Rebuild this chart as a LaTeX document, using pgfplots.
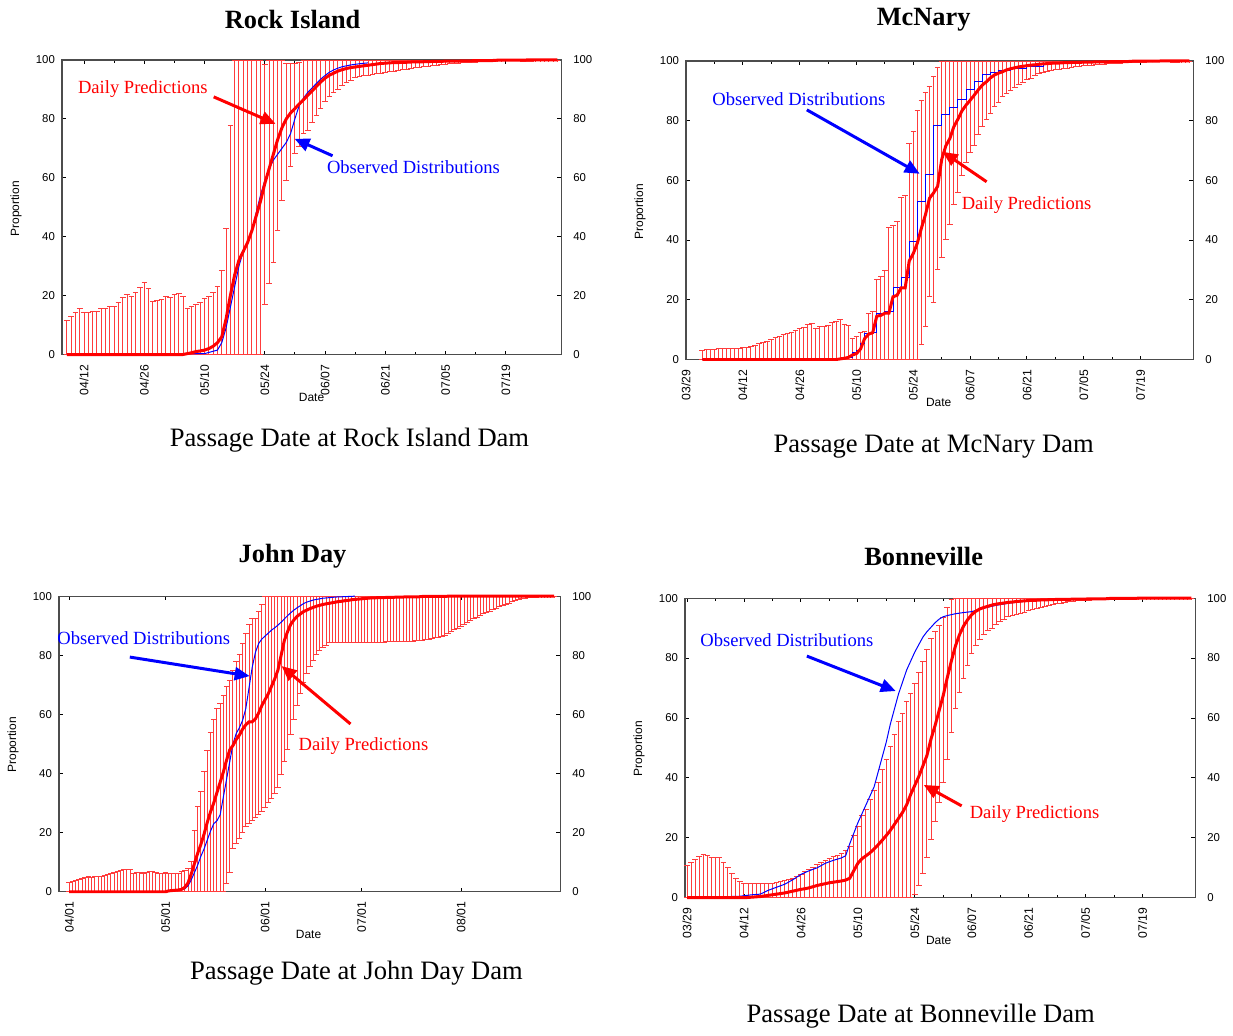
\documentclass[border=0pt]{standalone}
\usepackage{fontspec}
\setmainfont{Liberation Serif}
\setsansfont{Liberation Sans}
\usepackage{pgfplots}
\pgfplotsset{compat=1.18}
\usepackage{pgfplotstable}
\usetikzlibrary{arrows.meta}
\definecolor{barred}{RGB}{255,60,60}

% Rock Island: day (04/01 = 1), lower, upper, prediction
\pgfplotstableread[row sep=\\]{d lo hi p\\
8 0 11.6 0\\ 9 0 13.0 0\\ 10 0 14.3 0\\ 11 0 15.7 0\\ 12 0 14.5 0\\ 13 0 14.5 0\\ 14 0 14.9 0\\ 15 0 14.9 0\\
16 0 15.7 0\\ 17 0 15.7 0\\ 18 0 16.3 0\\ 19 0 16.6 0\\ 20 0 17.9 0\\ 21 0 19.4 0\\ 22 0 20.6 0\\ 23 0 19.7 0\\
24 0 21.2 0\\ 25 0 22.8 0\\ 26 0 24.7 0\\ 27 0 22.5 0\\ 28 0 18.2 0\\ 29 0 18.4 0\\ 30 0 18.7 0\\ 31 0 19.7 0\\
32 0 19.4 0\\ 33 0 20.5 0\\ 34 0 20.9 0\\ 35 0 20.0 0\\ 36 0 15.8 0.3\\ 37 0 16.6 0.6\\ 38 0 17.0 1.0\\ 39 0 17.8 1.2\\
40 0 19.1 1.5\\ 41 0 20.0 2.0\\ 42 0 21.2 2.8\\ 43 0 23.1 4.0\\ 44 0 28.7 6.0\\ 45 0 42.8 12\\ 46 0 78 20\\ 47 0 100 27\\
48 0 100 32\\ 49 0 100 35\\ 50 0 100 38\\ 51 0 100 42\\ 52 0 100 47\\ 53 0 100 52\\ 54 16.7 98.6 58\\ 55 24 100 63\\
56 31 100 68\\ 57 42 100 73\\ 58 52 100 77\\ 59 59 99 80\\ 60 63.7 99 82\\ 61 68 99 83.5\\ 62 70.5 99.2 85\\ 63 75 100 86.5\\
64 76 100 88\\ 65 78.6 100 89.5\\ 66 81 100 91\\ 67 83.3 100 92.5\\ 68 85.7 100 93.8\\ 69 87.4 100 94.8\\ 70 88.7 100 95.5\\ 71 89.9 100 96.2\\
72 91 100 96.7\\ 73 92 100 97.1\\ 74 93 100 97.4\\ 75 93.8 100 97.6\\ 76 94.2 100 97.8\\ 77 94.5 100 98.0\\ 78 94.7 100 98.2\\ 79 94.9 100 98.4\\
80 95.1 100 98.6\\ 81 95.3 100 98.8\\ 82 95.5 100 98.9\\ 83 95.8 100 99.0\\ 84 96.0 100 99.1\\ 85 96.3 100 99.1\\ 86 96.5 100 99.2\\ 87 96.7 100 99.2\\
88 96.9 100 99.3\\ 89 97.1 100 99.3\\ 90 97.3 100 99.3\\ 91 97.5 100 99.4\\ 92 97.7 100 99.4\\ 93 97.9 100 99.5\\ 94 98.1 100 99.5\\ 95 98.3 100 99.5\\
96 98.4 100 99.6\\ 97 98.5 100 99.6\\ 98 98.6 100 99.6\\ 99 98.7 100 99.6\\ 100 98.8 100 99.7\\ 101 98.9 100 99.7\\ 102 99.0 100 99.7\\ 103 99.1 100 99.8\\
104 99.2 100 99.8\\ 105 99.3 100 99.8\\ 106 99.3 100 99.8\\ 107 99.4 100 99.8\\ 108 99.5 100 99.9\\ 109 99.5 100 99.9\\ 110 99.6 100 99.9\\ 111 99.6 100 99.9\\
112 99.7 100 99.9\\ 113 99.7 100 99.9\\ 114 99.8 100 99.9\\ 115 99.8 100 100\\ 116 99.8 100 100\\ 117 99.9 100 100\\ 118 99.9 100 100\\ 119 99.9 100 100\\
120 100 100 100\\ 121 100 100 100\\ 122 100 100 100\\
}\riTab
\pgfplotstableread[row sep=\\]{d o\\
8 0\\ 40 0.3\\ 43 1.5\\ 44 4\\ 45 9\\ 46 16\\ 47 23\\ 48 30\\ 49 35\\ 50 38\\ 51 42\\ 52 48\\ 53 54\\ 54 59\\ 55 63\\ 56 66\\
57 68\\ 58 70\\ 59 72\\ 60 75\\ 61 80\\ 62 84.5\\ 63 87\\ 64 89\\ 65 90.5\\ 66 92\\ 67 93.5\\ 68 94.7\\ 69 95.8\\ 70 96.6\\
71 97.2\\ 72 97.7\\ 74 98.3\\ 76 98.7\\ 78 99\\
}\riObs

% McNary
\pgfplotstableread[row sep=\\]{d lo hi p\\
2 0 3.3 0\\ 3 0 3.4 0\\ 4 0 3.5 0\\ 5 0 3.6 0\\ 6 0 3.7 0\\ 7 0 3.7 0\\ 8 0 3.8 0\\ 9 0 3.9 0\\
10 0 4.0 0\\ 11 0 4.0 0\\ 12 0 4.1 0\\ 13 0 4.3 0\\ 14 0 4.6 0\\ 15 0 5.0 0\\ 16 0 5.4 0\\ 17 0 5.8 0\\
18 0 6.3 0\\ 19 0 6.8 0\\ 20 0 7.4 0\\ 21 0 7.9 0\\ 22 0 8.4 0\\ 23 0 8.8 0\\ 24 0 9.3 0\\ 25 0 9.9 0\\
26 0 10.4 0\\ 27 0 11.0 0\\ 28 0 11.8 0\\ 29 0 12.2 0\\ 30 0 10.5 0\\ 31 0 11.3 0\\ 32 0 11.1 0\\ 33 0 11.7 0\\
34 0 12.4 0\\ 35 0 13.0 0\\ 36 0 13.6 0.2\\ 37 0 11.9 0.4\\ 38 0 11.7 0.7\\ 39 0 7.2 1.5\\ 40 0 8.0 2\\ 41 0 9.1 3.5\\
42 0 9.7 7\\ 43 0 15.6 8.5\\ 44 0 16.3 9\\ 45 0 27 14.5\\ 46 0 28 14.8\\ 47 0 30 15.5\\ 48 0 44.5 15.5\\ 49 0 45 21\\
50 0 46.5 21.5\\ 51 0 54.5 24\\ 52 0 55 24\\ 53 0 72.5 33\\ 54 0 76.5 35.5\\ 55 0 83.5 39\\ 56 4.9 87 44\\ 57 10.8 89.5 48.5\\
58 20.8 91.5 54\\ 59 18.8 95 55.8\\ 60 29.9 98 58\\ 61 34 100 67\\ 62 40 100 71.5\\ 63 45.2 100 74\\ 64 51.7 100 78\\ 65 55.8 100 80.5\\
66 61.3 100 83.3\\ 67 65.8 100 85.2\\ 68 69.1 100 86.8\\ 69 71.6 100 88.5\\ 70 75.2 100 90.3\\ 71 78 100 91.9\\ 72 80.2 100 93\\ 73 82.2 100 94.3\\
74 84.7 100 95.3\\ 75 85.8 100 95.9\\ 76 87.8 100 96.4\\ 77 88.8 100 97\\ 78 90 100 97.4\\ 79 91 100 97.7\\ 80 91.9 100 98\\ 81 92.7 100 98.2\\
82 93.6 100 98.4\\ 83 94.1 100 98.6\\ 84 95 100 98.7\\ 85 95.6 100 98.9\\ 86 96 100 99\\ 87 96.3 100 99.1\\ 88 96.7 100 99.2\\ 89 96.9 100 99.3\\
90 97.1 100 99.3\\ 91 97.3 100 99.4\\ 92 97.4 100 99.4\\ 93 97.6 100 99.5\\ 94 97.8 100 99.5\\ 95 98 100 99.5\\ 96 98.2 100 99.6\\ 97 98.3 100 99.6\\
98 98.4 100 99.6\\ 99 98.5 100 99.7\\ 100 98.7 100 99.7\\ 101 98.8 100 99.7\\ 102 98.9 100 99.7\\ 103 99 100 99.8\\ 104 99.1 100 99.8\\ 105 99.1 100 99.8\\
106 99.2 100 99.8\\ 107 99.2 100 99.8\\ 108 99.3 100 99.9\\ 109 99.3 100 99.9\\ 110 99.4 100 99.9\\ 111 99.4 100 99.9\\ 112 99.5 100 99.9\\ 113 99.5 100 99.9\\
114 99.6 100 99.9\\ 115 99.6 100 100\\ 116 99.7 100 100\\ 117 99.7 100 100\\ 118 99.8 100 100\\ 119 99.8 100 100\\ 120 99.9 100 100\\ 121 99.9 100 100\\
122 100 100 100\\
}\mcTab
\pgfplotstableread[row sep=\\]{d o\\
2 0\\ 30 0.5\\ 38 0.8\\ 39 2.5\\ 40 3\\ 41 5.5\\ 42 8.8\\ 44 9\\ 45 15.5\\ 47 16\\ 49 24\\ 51 27.5\\ 53 39.5\\ 55 53\\
57 62\\ 59 78.5\\ 61 82\\ 63 84.5\\ 65 87\\ 67 90.5\\ 69 93\\ 71 95.5\\ 73 96\\ 75 96.8\\ 78 97.5\\ 82 98.3\\ 86 99\\ 90 99.5\\ 96 100\\
}\mcObs

% John Day
\pgfplotstableread[row sep=\\]{d lo hi p\\
1 0 3.2 0\\ 2 0 3.5 0\\ 3 0 4.0 0\\ 4 0 4.3 0\\ 5 0 4.6 0\\ 6 0 5.0 0\\ 7 0 5.2 0\\ 8 0 5.1 0\\
9 0 5.2 0\\ 10 0 5.2 0\\ 11 0 5.3 0\\ 12 0 5.6 0\\ 13 0 6.0 0\\ 14 0 6.3 0\\ 15 0 6.6 0\\ 16 0 7.0 0\\
17 0 7.3 0\\ 18 0 7.6 0\\ 19 0 7.8 0\\ 20 0 7.6 0\\ 21 0 6.5 0\\ 22 0 6.7 0\\ 23 0 6.6 0\\ 24 0 6.3 0\\
25 0 6.8 0\\ 26 0 7.0 0\\ 27 0 7.0 0\\ 28 0 6.6 0\\ 29 0 6.4 0\\ 30 0 6.4 0\\ 31 0 6.6 0\\ 32 0 6.4 0.3\\
33 0 6.4 0.4\\ 34 0 6.5 0.5\\ 35 0 6.5 0.6\\ 36 0 7.0 0.8\\ 37 0 7.5 1.5\\ 38 0 8.0 3\\ 39 0 10.3 6\\ 40 0 21 9.5\\
41 0 29 13\\ 42 0 34 16\\ 43 0 41 19.5\\ 44 0 48 23.5\\ 45 0 54 27\\ 46 0 58.5 30\\ 47 0 62 33.5\\ 48 0 64 37\\
49 0 66.5 40.5\\ 50 2.5 69.5 44.5\\ 51 6.5 71.5 48\\ 52 14.5 75 49.5\\ 53 16 78 51.5\\ 54 18 80.5 53\\ 55 20 84 55\\ 56 22 87.5 56.5\\
57 23 90.5 57.5\\ 58 24 92.5 57.5\\ 59 25 92.5 58.5\\ 60 26 95 60.5\\ 61 27 97.5 63\\ 62 28.5 100 65\\ 63 30 100 67\\ 64 31.5 100 69.5\\
65 33 100 72\\ 66 35 100 75\\ 67 39.5 100 80\\ 68 44 100 85\\ 69 48 100 88\\ 70 53 100 90.5\\ 71 58 100 92\\ 72 63 100 93.2\\
73 67 100 94\\ 74 70.5 100 94.8\\ 75 73.5 100 95.3\\ 76 76 100 95.8\\ 77 78 100 96.2\\ 78 80 100 96.6\\ 79 81.5 100 96.9\\ 80 82.5 100 97.2\\
81 83.3 100 97.4\\ 82 84 100 97.6\\ 83 84.2 100 97.8\\ 84 84.3 100 98\\ 85 84.3 100 98.2\\ 86 84.3 100 98.3\\ 87 84.3 100 98.5\\ 88 84.3 100 98.6\\
89 84.3 100 98.8\\ 90 84.3 100 98.9\\ 91 84.3 100 99\\ 92 84.3 100 99.1\\ 93 84.3 100 99.2\\ 94 84.3 100 99.3\\ 95 84.3 100 99.4\\ 96 84.3 100 99.4\\
97 84.3 100 99.5\\ 98 84.3 100 99.5\\ 99 84.3 100 99.5\\ 100 84.4 100 99.6\\ 101 84.4 100 99.6\\ 102 84.4 100 99.6\\ 103 84.4 100 99.7\\ 104 84.5 100 99.7\\
105 84.5 100 99.7\\ 106 84.5 100 99.8\\ 107 84.6 100 99.8\\ 108 84.6 100 99.8\\ 109 84.7 100 99.8\\ 110 84.8 100 99.8\\ 111 85 100 99.9\\ 112 85.1 100 99.9\\
113 85.3 100 99.9\\ 114 85.5 100 99.9\\ 115 85.7 100 99.9\\ 116 85.9 100 99.9\\ 117 86.2 100 99.9\\ 118 86.6 100 99.9\\ 119 87.2 100 100\\ 120 87.8 100 100\\
121 88.4 100 100\\ 122 89 100 100\\ 123 89.6 100 100\\ 124 90.3 100 100\\ 125 91 100 100\\ 126 91.6 100 100\\ 127 92.2 100 100\\ 128 92.7 100 100\\
129 93.2 100 100\\ 130 93.8 100 100\\ 131 94.3 100 100\\ 132 94.8 100 100\\ 133 95.3 100 100\\ 134 95.7 100 100\\ 135 96.2 100 100\\ 136 96.7 100 100\\
137 97.1 100 100\\ 138 97.5 100 100\\ 139 97.9 100 100\\ 140 98.3 100 100\\ 141 98.6 100 100\\ 142 98.9 100 100\\ 143 99.2 100 100\\ 144 99.4 100 100\\
145 99.6 100 100\\ 146 99.8 100 100\\ 147 99.9 100 100\\ 148 100 100 100\\ 149 100 100 100\\ 150 100 100 100\\ 151 100 100 100\\ 152 100 100 100\\
}\jdTab
\pgfplotstableread[row sep=\\]{d o\\
1 0\\ 31 0\\ 33 0.5\\ 37 1\\ 38 2\\ 39 4\\ 40 6.5\\ 41 9\\ 42 12\\ 43 14.5\\ 44 17.5\\ 45 20.5\\ 46 23\\ 47 24\\ 48 26\\
49 32\\ 50 38\\ 51 44\\ 52 50\\ 53 53.5\\ 54 55.5\\ 55 58\\ 56 62\\ 57 69\\ 58 76\\ 59 81\\ 60 84\\ 61 85.5\\ 62 86.5\\
63 87.5\\ 64 88.5\\ 65 89.3\\ 66 90.2\\ 67 91.2\\ 68 92.3\\ 69 93.4\\ 70 94.4\\ 71 95.3\\ 72 96.1\\ 73 96.8\\ 74 97.5\\
75 98\\ 77 98.7\\ 80 99.3\\ 84 99.7\\ 90 100\\
}\jdObs

% Bonneville
\pgfplotstableread[row sep=\\]{d lo hi p\\
-2 0 11 0\\ -1 0 11.8 0\\ 0 0 12.8 0\\ 1 0 14 0\\ 2 0 14.7 0\\ 3 0 14.3 0\\ 4 0 13.6 0\\ 5 0 13.6 0\\
6 0 13.6 0\\ 7 0 12 0\\ 8 0 10.3 0\\ 9 0 8.3 0\\ 10 0 6.6 0\\ 11 0 5.5 0\\ 12 0 5 0\\ 13 0 5 0.1\\
14 0 5 0.2\\ 15 0 5 0.3\\ 16 0 4.8 0.4\\ 17 0 4.8 0.6\\ 18 0 4.8 0.8\\ 19 0 5 1.0\\ 20 0 5.2 1.2\\ 21 0 5.6 1.4\\
22 0 6 1.6\\ 23 0 6.3 1.9\\ 24 0 6.7 2.2\\ 25 0 7.3 2.5\\ 26 0 8 2.8\\ 27 0 8.8 3.0\\ 28 0 9.7 3.3\\ 29 0 10.4 3.7\\
30 0 11.1 4.1\\ 31 0 11.9 4.4\\ 32 0 12.5 4.7\\ 33 0 13.2 5.0\\ 34 0 13.8 5.2\\ 35 0 14.4 5.4\\ 36 0 15 5.6\\ 37 0 16 5.9\\
38 0 17.2 6.5\\ 39 0 20.8 9\\ 40 0 24.1 11.5\\ 41 0 27.5 13\\ 42 0 29.7 14\\ 43 0 33 15\\ 44 0 35.8 16.3\\ 45 0 38.8 17.7\\
46 0 43 19.2\\ 47 0 46.3 20.8\\ 48 0 50.7 22.5\\ 49 0 54.6 24.5\\ 50 0 59 26.5\\ 51 0 61.8 28.5\\ 52 0 65.7 31\\ 53 0 68.4 34.5\\
54 1 71.8 37.5\\ 55 4 75.3 40.5\\ 56 8 79 44\\ 57 13.3 83.1 47.5\\ 58 19.2 86.7 53\\ 59 25.2 88.9 57.5\\ 60 31.7 90.9 62.5\\ 61 38.2 93.7 67.5\\
62 46 97.2 73.5\\ 63 55 99.7 79\\ 64 62.9 100 84\\ 65 68.4 100 87.8\\ 66 72.9 100 90.7\\ 67 77.5 100 92.8\\ 68 81.2 100 94.5\\ 69 83.9 100 95.6\\
70 85.9 100 96.4\\ 71 87.8 100 96.9\\ 72 88.9 100 97.3\\ 73 89.8 100 97.7\\ 74 91.1 100 98\\ 75 92 100 98.2\\ 76 92.8 100 98.4\\ 77 93.6 100 98.6\\
78 94 100 98.7\\ 79 94.4 100 98.9\\ 80 94.8 100 99\\ 81 95.2 100 99.1\\ 82 95.6 100 99.2\\ 83 96 100 99.3\\ 84 96.4 100 99.3\\ 85 96.8 100 99.4\\
86 97.1 100 99.4\\ 87 97.4 100 99.5\\ 88 97.7 100 99.5\\ 89 98 100 99.6\\ 90 98.2 100 99.6\\ 91 98.4 100 99.6\\ 92 98.6 100 99.6\\ 93 98.8 100 99.7\\
94 98.9 100 99.7\\ 95 99 100 99.7\\ 96 99.1 100 99.7\\ 97 99.2 100 99.8\\ 98 99.3 100 99.8\\ 99 99.4 100 99.8\\ 100 99.5 100 99.8\\ 101 99.6 100 99.8\\
102 99.7 100 99.9\\ 103 99.7 100 99.9\\ 104 99.8 100 99.9\\ 105 99.8 100 99.9\\ 106 99.8 100 99.9\\ 107 99.8 100 99.9\\ 108 99.8 100 99.9\\ 109 99.9 100 100\\
110 99.9 100 100\\ 111 99.9 100 100\\ 112 99.9 100 100\\ 113 99.9 100 100\\ 114 99.9 100 100\\ 115 100 100 100\\ 116 100 100 100\\ 117 100 100 100\\
118 100 100 100\\ 119 100 100 100\\ 120 100 100 100\\ 121 100 100 100\\ 122 100 100 100\\
}\bnTab
\pgfplotstableread[row sep=\\]{d o\\
-2 0\\ 6 0.3\\ 11 0.5\\ 14 1\\ 16 1.2\\ 18 2.5\\ 20 3.5\\ 22 4.5\\ 24 6\\ 26 7.8\\ 28 9\\ 30 10\\ 32 11.5\\ 34 12.5\\
36 13.3\\ 37 14\\ 38 18\\ 39 21.5\\ 40 25\\ 41 28\\ 42 31\\ 43 34\\ 44 37\\ 45 42\\ 46 47\\ 47 52\\ 48 58\\ 49 63\\
50 68\\ 51 72\\ 52 76\\ 53 79\\ 54 82\\ 55 84.5\\ 56 87\\ 57 88.8\\ 58 90.3\\ 59 91.8\\ 60 93\\ 61 93.8\\ 62 94.2\\
64 94.8\\ 66 95.2\\ 68 95.5\\ 70 96.3\\ 72 97\\ 74 97.6\\ 77 98.3\\ 80 98.8\\ 83 99.2\\
}\bnObs

\pgfplotsset{
  panel/.style={scale only axis, anchor=south west, ymin=0, ymax=100,
    ytick={0,20,...,100}, clip=false,
    axis line style={draw=black!70, line width=0.6pt},
    tick style={black, line width=0.45pt},
    major tick length=2pt, minor tick length=1.3pt,
    tick align=inside,
    ticklabel style={font=\sffamily\fontsize{5.7}{6}\selectfont, text=black},
    /pgf/number format/assume math mode=true,
    xticklabel style={rotate=90, anchor=east, xshift=-1.5pt, font=\sffamily\fontsize{6.1}{6.5}\selectfont},
  },
  rlab/.style={scale only axis, anchor=south west, ymin=0, ymax=100,
    ytick={0,20,...,100}, axis x line=none, axis y line*=right,
    axis line style={draw=none}, major tick length=0pt,
    ticklabel style={font=\sffamily\fontsize{5.7}{6}\selectfont, text=black},
    /pgf/number format/assume math mode=true,
    yticklabel style={xshift=2.5pt},
  },
  bars/.style={draw=barred, line width=0.5pt, mark=none,
    arrows={Bar[width=2.8pt]-Bar[width=2.8pt]}},
  pred/.style={red, line width=1.5pt, mark=none},
  obs/.style={blue, line width=0.5pt, mark=none},
}
\newcommand{\barsfrom}[1]{\addplot[bars, quiver={u=0, v={max(\thisrow{hi}-\thisrow{lo},0.05)}}] table[x=d, y=lo] {#1};}

\begin{document}
\begin{tikzpicture}
\begin{scope}[x=0.5pt,y=-0.5pt]
\useasboundingbox (0,0) rectangle (1233,1036);
\end{scope}

% ---------- Rock Island ----------
\begin{axis}[panel, at={(31pt,-177.5pt)}, width=250pt, height=147.5pt,
  xmin=6.85, xmax=122.9, xtick={12,26,40,54,68,82,96,110},
  xticklabels={04/12,04/26,05/10,05/24,06/07,06/21,07/05,07/19}, minor x tick num=1]
\barsfrom{\riTab}
\addplot[obs] table[x=d, y=o] {\riObs};
\addplot[pred] table[x=d, y=p] {\riTab};
\end{axis}
\begin{axis}[rlab, at={(31pt,-177.5pt)}, width=250pt, height=147.5pt, xmin=6.85, xmax=122.9]
\end{axis}

% ---------- McNary ----------
\begin{axis}[panel, at={(343.5pt,-180pt)}, width=254pt, height=149.5pt,
  xmin=-2, xmax=123, xtick={-2,12,26,40,54,68,82,96,110},
  xticklabels={03/29,04/12,04/26,05/10,05/24,06/07,06/21,07/05,07/19}, minor x tick num=1]
\barsfrom{\mcTab}
\addplot[obs, const plot] table[x=d, y=o] {\mcObs};
\addplot[pred] table[x=d, y=p] {\mcTab};
\end{axis}
\begin{axis}[rlab, at={(343.5pt,-180pt)}, width=254pt, height=149.5pt, xmin=-2, xmax=123]
\end{axis}

% ---------- John Day ----------
\begin{axis}[panel, at={(29.5pt,-446.5pt)}, width=251pt, height=148pt,
  xmin=-2.2, xmax=153.9, xtick={1,31,62,92,123},
  xticklabels={04/01,05/01,06/01,07/01,08/01}, minor x tick num=2]
\barsfrom{\jdTab}
\addplot[obs] table[x=d, y=o] {\jdObs};
\addplot[pred] table[x=d, y=p] {\jdTab};
\end{axis}
\begin{axis}[rlab, at={(29.5pt,-446.5pt)}, width=251pt, height=148pt, xmin=-2.2, xmax=153.9]
\end{axis}

% ---------- Bonneville ----------
\begin{axis}[panel, at={(343pt,-449.5pt)}, width=255.5pt, height=150pt,
  xmin=-2.5, xmax=123, xtick={-2,12,26,40,54,68,82,96,110},
  xticklabels={03/29,04/12,04/26,05/10,05/24,06/07,06/21,07/05,07/19}, minor x tick num=1]
\barsfrom{\bnTab}
\addplot[obs] table[x=d, y=o] {\bnObs};
\addplot[pred] table[x=d, y=p] {\bnTab};
\end{axis}
\begin{axis}[rlab, at={(343pt,-449.5pt)}, width=255.5pt, height=150pt, xmin=-2.5, xmax=123]
\end{axis}

% ---------- texts and arrows ----------
\begin{scope}[x=0.5pt,y=-0.5pt]
\tikzset{ttlsty/.style={font=\bfseries\fontsize{13.2}{15}\selectfont},
  capsty/.style={font=\fontsize{13.3}{16}\selectfont},
  labsty/.style={font=\sffamily\fontsize{6}{7}\selectfont},
  annsty/.style={font=\fontsize{9.3}{11}\selectfont, inner sep=0pt},
  arrsty/.style={line width=1.5pt, -{Triangle[length=7.5pt,width=6.5pt]}}}
\node[ttlsty] at (293,20) {Rock Island};
\node[ttlsty] at (925,20) {McNary};
\node[ttlsty] at (293,557) {John Day};
\node[ttlsty] at (925,557) {Bonneville};
\node[capsty] at (350,441) {Passage Date at Rock Island Dam};
\node[capsty] at (935,447) {Passage Date at McNary Dam};
\node[capsty] at (357,975) {Passage Date at John Day Dam};
\node[capsty] at (922,1018) {Passage Date at Bonneville Dam};
\node[labsty] at (312,398) {Date};
\node[labsty] at (940,403) {Date};
\node[labsty] at (309,936) {Date};
\node[labsty] at (940,942) {Date};
\node[labsty, rotate=90] at (16,209) {Proportion};
\node[labsty, rotate=90] at (641,212) {Proportion};
\node[labsty, rotate=90] at (13,746) {Proportion};
\node[labsty, rotate=90] at (640,750) {Proportion};
% Rock Island
\node[annsty, text=red] at (143,89) {Daily Predictions};
\draw[arrsty, red] (214,97) -- (276,124);
\node[annsty, text=blue] at (414,167) {Observed Distributions};
\draw[arrsty, blue] (333,156) -- (295,139);
% McNary
\node[annsty, text=blue] at (800,99) {Observed Distributions};
\draw[arrsty, blue] (808,110) -- (921,174);
\node[annsty, text=red] at (1028,205) {Daily Predictions};
\draw[arrsty, red] (988,182) -- (944,152);
% John Day
\node[annsty, text=blue] at (144,639) {Observed Distributions};
\draw[arrsty, blue] (130,658) -- (250,677);
\node[annsty, text=red] at (364,747) {Daily Predictions};
\draw[arrsty, red] (351,725) -- (282,667);
% Bonneville
\node[annsty, text=blue] at (788,641) {Observed Distributions};
\draw[arrsty, blue] (808,657) -- (897,692);
\node[annsty, text=red] at (1036,815) {Daily Predictions};
\draw[arrsty, red] (963,807) -- (925,786);
\end{scope}
\end{tikzpicture}
\end{document}
